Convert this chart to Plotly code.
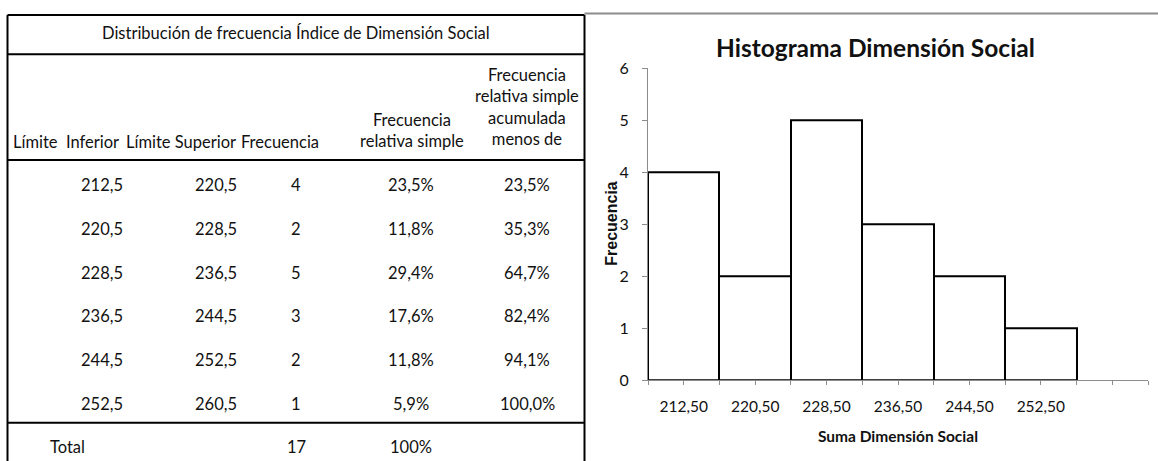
import plotly.graph_objects as go

# ---------------- data ----------------
lim_inf = [212.5, 220.5, 228.5, 236.5, 244.5, 252.5]
lim_sup = [220.5, 228.5, 236.5, 244.5, 252.5, 260.5]
frecuencia = [4, 2, 5, 3, 2, 1]
rel_simple = [23.5, 11.8, 29.4, 17.6, 11.8, 5.9]
rel_acum = [23.5, 35.3, 64.7, 82.4, 94.1, 100.0]
total_frec = 17
total_rel = "100%"
x_tick_labels = ["212,50", "220,50", "228,50", "236,50", "244,50", "252,50", ""]

table_title = "Distribución de frecuencia Índice de Dimensión Social"
chart_title = "Histograma Dimensión Social"
x_title = "Suma Dimensión Social"
y_title = "Frecuencia"

# ---------------- layout helpers ----------------
W, H = 1158, 461
FONT = "Lato, Carlito, Open Sans, sans-serif"
TXT = "#111111"


def px(x):
    return x / W


def T(y):
    # empirical vertical correction of the screenshot
    return (y - 9.6) / 0.9617


def py(y):
    return 1 - T(y) / H


def fmt(v, nd=1):
    return f"{v:.{nd}f}".replace(".", ",")


fig = go.Figure()

fig.add_trace(go.Bar(
    x=list(range(len(frecuencia))),
    y=frecuencia,
    width=1,
    marker=dict(color="white", line=dict(color="black", width=2)),
    showlegend=False,
    hoverinfo="y",
))

annotations = []
shapes = []


def ann(text, x, y, size=16.5, xanchor="center", bold=False, family=FONT, angle=0, color=TXT):
    annotations.append(dict(
        text=f"<b>{text}</b>" if bold else text,
        x=px(x), y=py(y), xref="paper", yref="paper",
        xanchor=xanchor, yanchor="middle", showarrow=False,
        textangle=angle,
        font=dict(family=family, size=size, color=color),
    ))


def line(x0, y0, x1, y1, color="black", width=2):
    shapes.append(dict(type="line", xref="paper", yref="paper",
                       x0=px(x0), y0=py(y0), x1=px(x1), y1=py(y1),
                       line=dict(color=color, width=width)))


# ---- table frame ----
TL, TR = 7.5, 584.5
line(TL, 14.5, TR, 14.5)
line(TL, 54, TR, 54)
line(TL, 160, TR, 160)
line(TL, 423.5, TR, 423.5)
line(TL, 14.5, TL, 470)
line(TR, 14.5, TR, 470)
# chart area top border
line(TR, 13, W, 13, color="#8c8c8c", width=2)

# ---- table text ----
ann(table_title, 296, 33)
ann("Límite  Inferior", 66, 142)
ann("Límite Superior", 181, 142)
ann("Frecuencia", 280, 142)
ann("Frecuencia<br>relativa simple", 412, 130)
ann("Frecuencia<br>relativa simple<br>acumulada<br>menos de", 527, 106.5)

col_x = [102, 216, 296, 411, 527]
for i in range(len(frecuencia)):
    yy = 185 + i * 44
    ann(fmt(lim_inf[i]), col_x[0], yy)
    ann(fmt(lim_sup[i]), col_x[1], yy)
    ann(str(frecuencia[i]), col_x[2], yy)
    ann(fmt(rel_simple[i]) + "%", col_x[3], yy)
    ann(fmt(rel_acum[i]) + "%", col_x[4], yy)

ann("Total", 48, 448, xanchor="left")
ann(str(total_frec), col_x[2], 448)
ann(total_rel, col_x[3], 448)

# ---- chart text ----
ann(chart_title, 875, 47, size=24.5, bold=True)
ann(x_title, 898, 437, size=15.5, bold=True)
ann(y_title, 612, 224, size=16, bold=True,
    family="Liberation Sans, Arial, sans-serif", angle=-90)

fig.update_layout(
    width=W, height=H,
    margin=dict(l=0, r=0, t=0, b=0),
    paper_bgcolor="white", plot_bgcolor="white",
    bargap=0,
    shapes=shapes,
    annotations=annotations,
    xaxis=dict(
        domain=[px(648), px(1148)],
        range=[-0.5, 6.5],
        tickvals=list(range(7)),
        ticktext=x_tick_labels,
        ticks="outside", ticklen=4, tickcolor="#8c8c8c", tickwidth=1,
        minor=dict(tickvals=[i - 0.5 for i in range(8)], ticks="outside",
                   ticklen=4, tickcolor="#8c8c8c", tickwidth=1),
        showline=True, linecolor="#8c8c8c", linewidth=1,
        showgrid=False, zeroline=False,
        tickfont=dict(family=FONT, size=15.5, color=TXT),
        ticklabelstandoff=8,
        fixedrange=True,
    ),
    yaxis=dict(
        domain=[py(381), py(68)],
        range=[0, 6],
        tickvals=list(range(7)),
        ticks="outside", ticklen=5, tickcolor="#8c8c8c", tickwidth=1,
        showline=True, linecolor="#8c8c8c", linewidth=1,
        showgrid=False, zeroline=False,
        tickfont=dict(family=FONT, size=16, color=TXT),
        ticklabelstandoff=10,
        fixedrange=True,
    ),
)

fig.write_html("out.html", config={"displayModeBar": False},
               post_script="document.body.style.margin='0';")
